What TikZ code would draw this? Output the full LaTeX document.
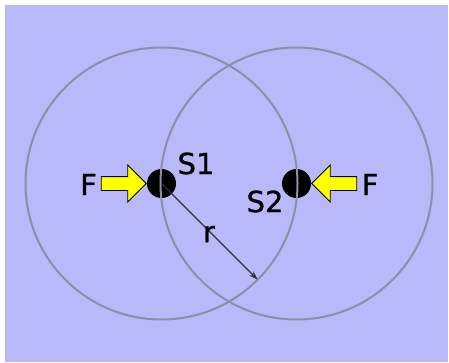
\documentclass[tikz,border=0pt]{standalone}
\usepackage{fontspec}
\setmainfont{DejaVu Sans}
\newfontfamily\lblfont[FakeBold=1]{DejaVu Sans}
\usepackage{xcolor}
\usepackage{tikz}
\usetikzlibrary{arrows.meta, calc, shapes.arrows}
\definecolor{lavbg}{HTML}{B9B9F9}
\definecolor{ringgray}{HTML}{8E8EA4}
\definecolor{forceyel}{HTML}{FFFF00}

\tikzset{
  ring/.style={draw=ringgray, line width=2pt},
  seed/.style={circle, fill=black, minimum size=29pt, inner sep=0pt},
  force/.style={single arrow, draw=black, fill=forceyel, line width=0.8pt,
    minimum height=45pt, single arrow head extend=11.5pt,
    single arrow head indent=0pt, inner xsep=0pt, inner ysep=6.5pt},
  lbl/.style={font=\lblfont\fontsize{29}{34}\selectfont, text=black, inner sep=0pt}
}

\begin{document}
\begin{tikzpicture}[x=1pt, y=1pt]
\useasboundingbox (0,0) rectangle (449,362);
\fill[white] (0,0) rectangle (449,362);
\fill[lavbg] (5,0) rectangle (448,357);
\node[seed] (s1) at (161.5,178.5) {};
\node[seed] (s2) at (296.5,178.5) {};
\draw[ring] (s1.center) circle (136);
\draw[ring] (s2.center) circle (136);
\node[force, anchor=tip] (fl) at (s1.west) {};
\node[force, anchor=tip, shape border rotate=180] (fr) at (s2.east) {};
\node[lbl] (labfl) at (88.5,177.5) {F};
\node[lbl] (labfr) at (370,177.5) {F};
\node[lbl] (labs1) at (196,198.5) {S1};
\node[lbl] (labs2) at (265,160.5) {S2};
\coordinate (rend) at ($(s1.center)+(-45:136)$);
\draw[black!80, line width=1.2pt, -{Stealth[length=9pt, width=6pt]}] (s1.center) -- (rend);
\node[lbl] (labr) at (209,128) {r};
\end{tikzpicture}
\end{document}
